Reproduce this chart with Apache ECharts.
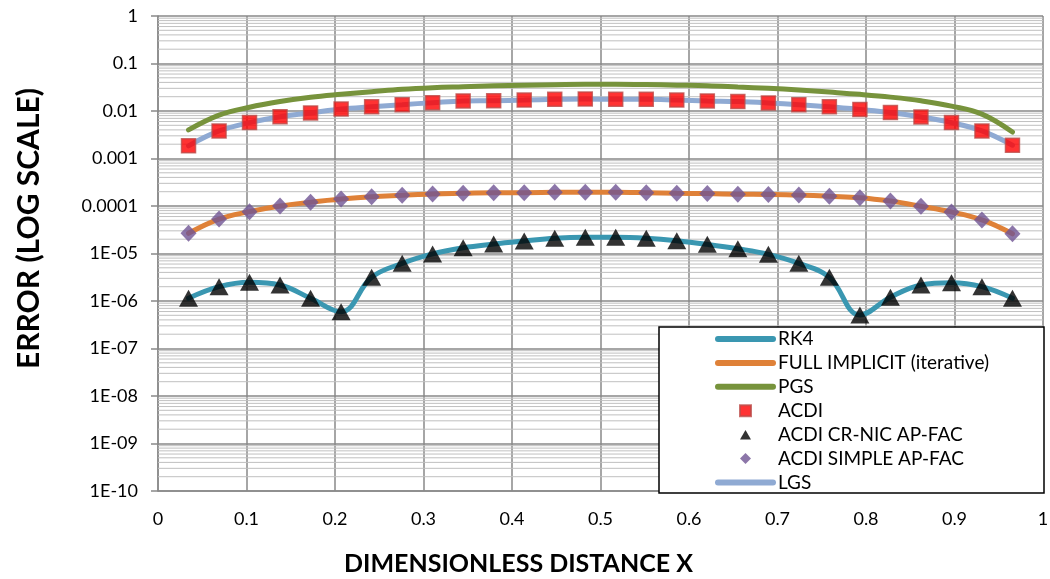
<!DOCTYPE html>
<html>
<head>
<meta charset="utf-8">
<script src="https://cdn.jsdelivr.net/npm/echarts@6/dist/echarts.min.js"></script>
<style>
  html, body { margin: 0; padding: 0; background: #fff; }
  #main { width: 1050px; height: 579px; }
</style>
</head>
<body>
<div id="main"></div>
<script>
// grid points (x = i/29)
var xValues = [0.0345, 0.069, 0.1034, 0.1379, 0.1724, 0.2069, 0.2414, 0.2759, 0.3103, 0.3448,
  0.3793, 0.4138, 0.4483, 0.4828, 0.5172, 0.5517, 0.5862, 0.6207, 0.6552, 0.6897,
  0.7241, 0.7586, 0.7931, 0.8276, 0.8621, 0.8966, 0.931, 0.9655];

var rk4 = [1.14e-6, 2.0e-6, 2.48e-6, 2.17e-6, 1.14e-6, 5.95e-7, 3.15e-6, 6.2e-6, 9.8e-6, 1.32e-5,
  1.58e-5, 1.83e-5, 2.09e-5, 2.19e-5, 2.19e-5, 2.09e-5, 1.86e-5, 1.56e-5, 1.26e-5, 9.6e-6,
  6.2e-6, 3.15e-6, 5.07e-7, 1.2e-6, 2.17e-6, 2.43e-6, 2.0e-6, 1.14e-6];
var acdiCrNic = [1.14e-6, 2.0e-6, 2.48e-6, 2.17e-6, 1.14e-6, 5.95e-7, 3.15e-6, 6.2e-6, 9.8e-6, 1.32e-5,
  1.58e-5, 1.83e-5, 2.09e-5, 2.19e-5, 2.19e-5, 2.09e-5, 1.86e-5, 1.56e-5, 1.26e-5, 9.6e-6,
  6.2e-6, 3.15e-6, 5.07e-7, 1.2e-6, 2.17e-6, 2.43e-6, 2.0e-6, 1.14e-6];

var fullImplicit = [2.66e-5, 5.3e-5, 7.6e-5, 1.0e-4, 1.2e-4, 1.4e-4, 1.57e-4, 1.68e-4, 1.79e-4, 1.85e-4,
  1.91e-4, 1.91e-4, 1.94e-4, 1.95e-4, 1.95e-4, 1.91e-4, 1.85e-4, 1.83e-4, 1.77e-4, 1.75e-4,
  1.7e-4, 1.6e-4, 1.5e-4, 1.27e-4, 9.9e-5, 7.5e-5, 5.1e-5, 2.6e-5];
var acdiSimple = [2.66e-5, 5.3e-5, 7.6e-5, 1.0e-4, 1.2e-4, 1.4e-4, 1.57e-4, 1.68e-4, 1.79e-4, 1.85e-4,
  1.91e-4, 1.91e-4, 1.94e-4, 1.95e-4, 1.95e-4, 1.91e-4, 1.85e-4, 1.83e-4, 1.77e-4, 1.75e-4,
  1.7e-4, 1.6e-4, 1.5e-4, 1.27e-4, 9.9e-5, 7.5e-5, 5.1e-5, 2.6e-5];

var pgs = [0.0040, 0.0082, 0.012, 0.0158, 0.0194, 0.0224, 0.0254, 0.0287, 0.031, 0.0325,
  0.034, 0.035, 0.0358, 0.0365, 0.0365, 0.036, 0.035, 0.034, 0.032, 0.030,
  0.0277, 0.025, 0.0224, 0.0196, 0.0164, 0.0127, 0.0086, 0.0036];

var acdi = [0.00185, 0.0038, 0.0057, 0.0076, 0.0091, 0.011, 0.0123, 0.0136, 0.015, 0.0163,
  0.0165, 0.017, 0.0176, 0.0179, 0.0176, 0.0176, 0.017, 0.0163, 0.0158, 0.0148,
  0.0136, 0.0123, 0.0108, 0.0093, 0.0075, 0.0057, 0.0038, 0.0019];
var lgs = [0.00185, 0.0038, 0.0057, 0.0076, 0.0091, 0.011, 0.0123, 0.0136, 0.015, 0.0163,
  0.0165, 0.017, 0.0176, 0.0179, 0.0176, 0.0176, 0.017, 0.0163, 0.0158, 0.0148,
  0.0136, 0.0123, 0.0108, 0.0093, 0.0075, 0.0057, 0.0038, 0.0019];

var seriesNames = ['RK4', 'FULL IMPLICIT (iterative)', 'PGS', 'ACDI',
  'ACDI CR-NIC AP-FAC', 'ACDI SIMPLE AP-FAC', 'LGS'];

// minor log gridlines 2..9 x 10^k
var minorGrid = [];
for (var k = -10; k < 0; k++) {
  for (var m = 2; m <= 9; m++) minorGrid.push(m * Math.pow(10, k));
}

function pairs(ys) {
  return xValues.map(function (x, i) { return [x, ys[i]]; });
}

function yLabel(v) {
  var e = Math.round(Math.log10(v));
  if (e === 0) return '1';
  if (e >= -4) return (Math.pow(10, e)).toFixed(-e);
  return '1E-' + (-e < 10 ? '0' : '') + (-e);
}

// legend marker icons drawn in a 55x14 box so they keep their shape
var BOX = 'M0,0L0,0M55,14L55,14';
var iconSquare = 'path://' + BOX + 'M22,1.5h11v11h-11Z';
var iconTriangle = 'path://' + BOX + 'M27.5,2.5L33,12H22Z';
var iconDiamond = 'path://' + BOX + 'M27.5,1.5L33,7L27.5,12.5L22,7Z';

var FONT = 'Lato';
var chart = echarts.init(document.getElementById('main'), null, { renderer: 'canvas' });

function lineSeries(name, ys, color, z) {
  return {
    name: name, type: 'line', data: pairs(ys),
    symbol: 'none', showSymbol: false, smooth: 0.4, z: z,
    lineStyle: { width: 5, color: color, cap: 'round' },
    itemStyle: { color: color },
    emphasis: { disabled: true }
  };
}

var series = minorGrid.map(function (v) {
  return {
    type: 'line', data: [[0, v], [1, v]], z: 1, silent: true,
    symbol: 'none', showSymbol: false,
    lineStyle: { color: '#C0C0C0', width: 1 },
    emphasis: { disabled: true }, tooltip: { show: false }
  };
});

series.push(
  lineSeries(seriesNames[0], rk4, '#3A97B1', 2),
  lineSeries(seriesNames[1], fullImplicit, '#DF8138', 2),
  lineSeries(seriesNames[2], pgs, '#77933C', 2),
  {
    name: seriesNames[3], type: 'scatter', data: pairs(acdi), z: 4,
    symbol: 'rect', symbolSize: 14,
    itemStyle: { color: '#FF0000', borderColor: '#BD4B48', borderWidth: 1.5 }
  },
  {
    name: seriesNames[4], type: 'scatter', data: pairs(acdiCrNic), z: 4,
    symbol: 'triangle', symbolSize: [19, 17],
    itemStyle: { color: '#000' }
  },
  {
    name: seriesNames[5], type: 'scatter', data: pairs(acdiSimple), z: 4,
    symbol: 'diamond', symbolSize: [16, 17],
    itemStyle: { color: '#6F5493' }
  },
  lineSeries(seriesNames[6], lgs, '#8FAAD3', 3)
);

var option = {
  animation: false,
  backgroundColor: '#fff',
  grid: { left: 158, right: 7, top: 16, bottom: 88, containLabel: false, outerBoundsMode: 'none' },
  xAxis: {
    type: 'value', min: 0, max: 1, interval: 0.1,
    name: 'DIMENSIONLESS DISTANCE X', nameLocation: 'middle', nameGap: 60,
    nameTextStyle: { fontFamily: FONT, fontWeight: 'bold', fontSize: 25, color: '#000', padding: [0, 164, 0, 0] },
    axisLine: { lineStyle: { color: '#898989', width: 1.5 } },
    axisTick: { show: false },
    axisLabel: { fontFamily: FONT, fontSize: 18, color: '#000', margin: 19,
      formatter: function (v) { return String(Math.round(v * 10) / 10); } },
    splitLine: { show: true, lineStyle: { color: '#898989', width: 1.5 } }
  },
  yAxis: {
    type: 'log', logBase: 10, min: 1e-10, max: 1, interval: 1,
    name: 'ERROR (LOG SCALE)', nameLocation: 'middle', nameGap: 114, nameRotate: 90,
    nameTextStyle: { fontFamily: FONT, fontWeight: 'bold', fontSize: 30, color: '#000', padding: [0, 0, 0, 50] },
    axisLine: { show: true, lineStyle: { color: '#898989', width: 1.5 } },
    axisTick: { show: true, length: 7, lineStyle: { color: '#898989', width: 1.5 } },
    axisLabel: { fontFamily: FONT, fontSize: 18, color: '#000', margin: 20, formatter: yLabel },
    splitLine: { show: true, lineStyle: { color: '#898989', width: 1.5 } }
  },
  legend: {
    orient: 'vertical', left: 715, top: 329.5, padding: 0, z: 20,
    itemWidth: 55, itemHeight: 14, itemGap: 4.9,
    textStyle: { fontFamily: FONT, fontSize: 19, color: '#000' },
    lineStyle: { width: 6, cap: 'round' },
    data: [
      { name: seriesNames[0], itemStyle: { opacity: 0 } },
      { name: seriesNames[1], itemStyle: { opacity: 0 } },
      { name: seriesNames[2], itemStyle: { opacity: 0 } },
      { name: seriesNames[3], icon: iconSquare },
      { name: seriesNames[4], icon: iconTriangle },
      { name: seriesNames[5], icon: iconDiamond },
      { name: seriesNames[6], itemStyle: { opacity: 0 } }
    ]
  },
  graphic: [{
    type: 'rect', z: 15, silent: true,
    shape: { x: 659, y: 327, width: 385, height: 166 },
    style: { fill: '#fff', stroke: '#000', lineWidth: 1.5 }
  }],
  series: series
};

chart.setOption(option);
</script>
</body>
</html>
